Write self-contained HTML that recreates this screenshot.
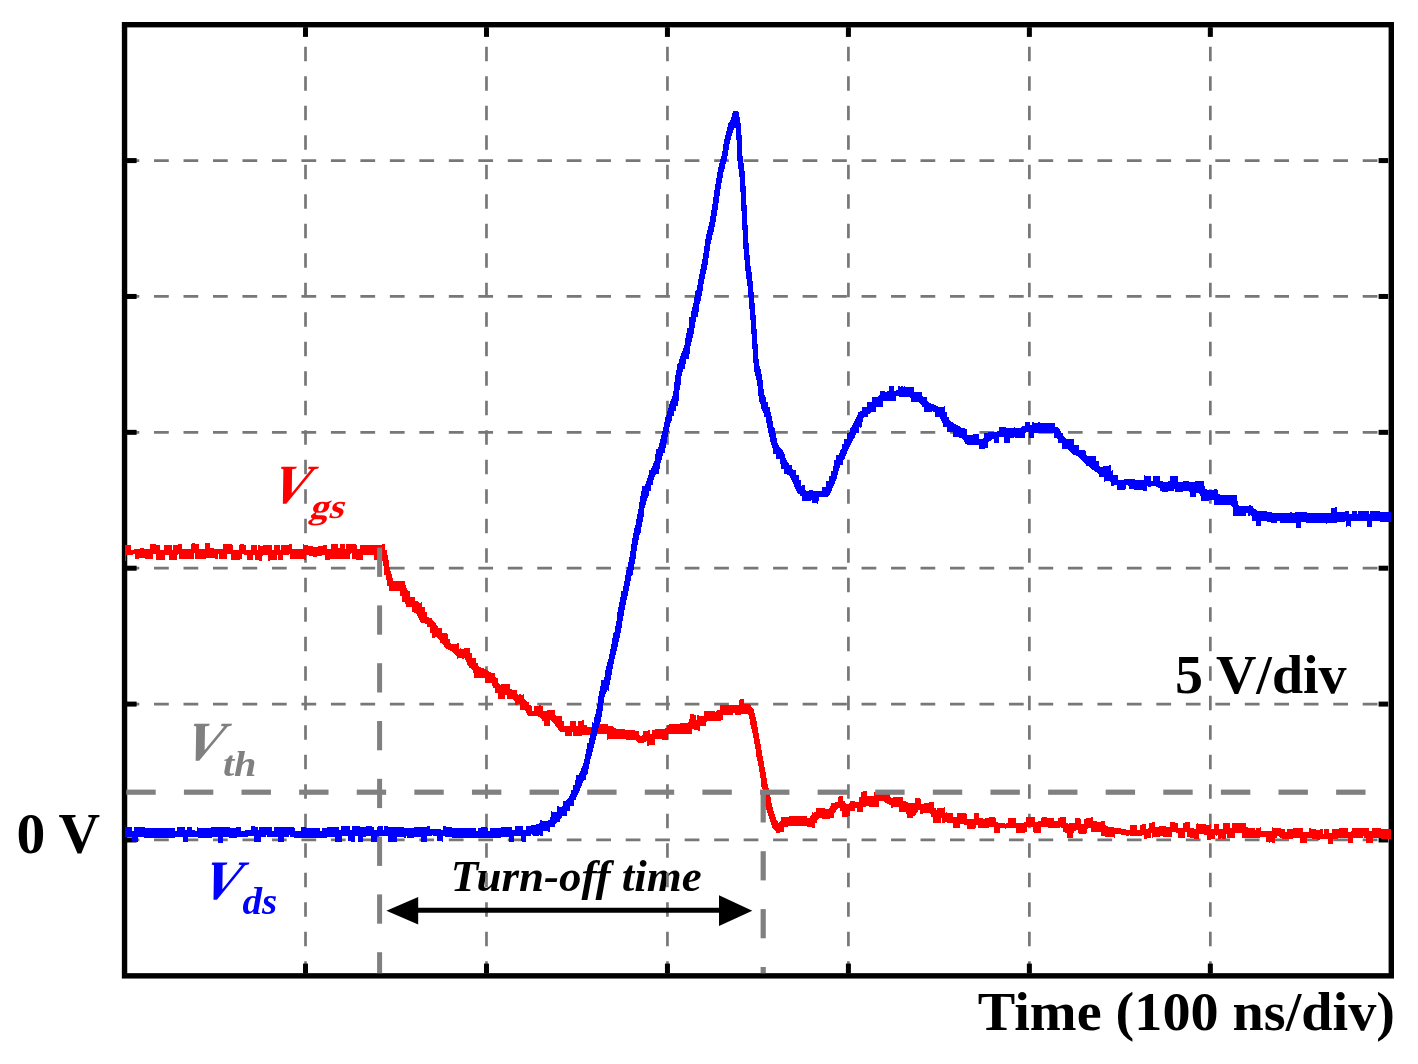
<!DOCTYPE html><html><head><meta charset="utf-8"><title>Turn-off waveform</title><style>html,body{margin:0;padding:0;background:#fff;overflow:hidden;}svg{display:block;}text{font-family:"Liberation Serif",serif;font-weight:bold;}</style></head><body>
<svg width="1418" height="1064" viewBox="0 0 1418 1064">
<rect width="1418" height="1064" fill="#fff"/>
<g>
<text transform="translate(265.42,502.81) scale(0.955,0.9921) skewX(-24)" font-size="56" fill="#ff0000">V</text>
<text transform="translate(308.6,518.07) scale(1.06,0.9538) skewX(-16)" font-size="36" fill="#ff0000">gs</text>
<text transform="translate(178.14,760.11) scale(0.96,0.9895) skewX(-24)" font-size="56" fill="#808080">V</text>
<text transform="translate(222.91,775.7) scale(1.0893,0.9889)" font-size="37" font-style="italic" fill="#808080">th</text>
<text transform="translate(196.3,898.6) scale(0.95,0.9974) skewX(-24)" font-size="56" fill="#0000ff">V</text>
<text transform="translate(242.4,914.3) scale(1.0562,1.0037)" font-size="37" font-style="italic" fill="#0000ff">ds</text>
<text transform="translate(16.48,852.9) scale(1.0099,1.0026)" font-size="57" fill="#000">0 V</text>
<text transform="translate(1174.93,692.64) scale(0.9827,0.9634)" font-size="57" fill="#000">5 V/div</text>
<text transform="translate(977.8,1030.26) scale(0.9857,0.9615)" font-size="57" fill="#000">Time (100 ns/div)</text>
<text transform="translate(450.78,891.16) scale(1.0078,1.005)" font-size="44.6" font-style="italic" fill="#000">Turn-off time</text>
</g>
<g stroke="#777" stroke-width="2.7" fill="none">
<line x1="124.55" y1="160.58" x2="1391.3" y2="160.58" stroke-dasharray="14.75 14.73"/>
<line x1="124.55" y1="296.46" x2="1391.3" y2="296.46" stroke-dasharray="14.75 14.73"/>
<line x1="124.55" y1="432.34" x2="1391.3" y2="432.34" stroke-dasharray="14.75 14.73"/>
<line x1="124.55" y1="568.21" x2="1391.3" y2="568.21" stroke-dasharray="14.75 14.73"/>
<line x1="124.55" y1="704.09" x2="1391.3" y2="704.09" stroke-dasharray="14.75 14.73"/>
<line x1="124.55" y1="839.97" x2="1391.3" y2="839.97" stroke-dasharray="14.75 14.73"/>
<line x1="305.51" y1="975.85" x2="305.51" y2="24.7" stroke-dasharray="14.6 14.9"/>
<line x1="486.48" y1="975.85" x2="486.48" y2="24.7" stroke-dasharray="14.6 14.9"/>
<line x1="667.44" y1="975.85" x2="667.44" y2="24.7" stroke-dasharray="14.6 14.9"/>
<line x1="848.41" y1="975.85" x2="848.41" y2="24.7" stroke-dasharray="14.6 14.9"/>
<line x1="1029.37" y1="975.85" x2="1029.37" y2="24.7" stroke-dasharray="14.6 14.9"/>
<line x1="1210.34" y1="975.85" x2="1210.34" y2="24.7" stroke-dasharray="14.6 14.9"/>
</g>
<g fill="#000">
<rect x="127" y="158.08" width="9.6" height="5"/>
<rect x="1378.6" y="158.08" width="9.6" height="5"/>
<rect x="127" y="293.96" width="9.6" height="5"/>
<rect x="1378.6" y="293.96" width="9.6" height="5"/>
<rect x="127" y="429.84" width="9.6" height="5"/>
<rect x="1378.6" y="429.84" width="9.6" height="5"/>
<rect x="127" y="565.71" width="9.6" height="5"/>
<rect x="1378.6" y="565.71" width="9.6" height="5"/>
<rect x="127" y="701.59" width="9.6" height="5"/>
<rect x="1378.6" y="701.59" width="9.6" height="5"/>
<rect x="127" y="837.47" width="9.6" height="5"/>
<rect x="1378.6" y="837.47" width="9.6" height="5"/>
<rect x="303.01" y="27.3" width="5" height="9.6"/>
<rect x="303.01" y="963.6" width="5" height="9.6"/>
<rect x="483.98" y="27.3" width="5" height="9.6"/>
<rect x="483.98" y="963.6" width="5" height="9.6"/>
<rect x="664.94" y="27.3" width="5" height="9.6"/>
<rect x="664.94" y="963.6" width="5" height="9.6"/>
<rect x="845.91" y="27.3" width="5" height="9.6"/>
<rect x="845.91" y="963.6" width="5" height="9.6"/>
<rect x="1026.87" y="27.3" width="5" height="9.6"/>
<rect x="1026.87" y="963.6" width="5" height="9.6"/>
<rect x="1207.84" y="27.3" width="5" height="9.6"/>
<rect x="1207.84" y="963.6" width="5" height="9.6"/>
</g>
<rect x="124.55" y="24.7" width="1266.75" height="951.15" fill="none" stroke="#000" stroke-width="5.4"/>
<path d="M124.6 546H125V545H131V550H134V549H140V548H144V549H150V544H156V545H160V550H164V545H172V550H173V545H178V544H182V549H191V544H192V543H195V544H199V549H205V543H210V548H214V549H223V544H232V545H233V550H239V545H240V544H244V545H246V550H251V545H257V550H258V545H260V546H263V545H272V550H274V545H280V550H281V545H289V544H292V549H303V544H304V545H308V546H313V547H318V546H323V545H327V549H331V544H338V548H340V544H345V549H346V544H356V545H357V549H360V545H382V544H385V550H387V555H388V560H389V567H390V571H391V574H392V578H393V581H405V585H406V588H407V590H408V591H410V597H415V601H418V602H419V603H421V602H422V607H425V612H427V617H429V618H432V620H433V621H434V622H435V623H436V625H437V626H438V628H442V633H447V634H448V639H450V643H451V644H457V643H459V649H460V648H461V649H464V648H470V653H472V658H476V663H478V666H479V667H481V668H484V669H486V670H488V671H489V672H491V673H495V677H496V678H498V683H499V684H500V685H501V684H510V689H512V690H517V694H518V695H519V694H521V695H523V694H524V699H525V700H526V701H527V702H529V705H531V706H532V711H534V706H539V705H541V706H543V711H547V710H555V715H556V716H562V721H564V726H570V721H576V726H578V721H582V720H584V725H587V727H595V728H597V724H608V726H613V727H614V728H616V729H625V730H635V731H639V735H640V736H642V735H643V731H648V730H650V734H652V730H655V729H665V728H667V725H669V724H680V723H688V722H689V719H690V714H694V715H696V720H697V715H699V716H704V711H715V712H716V711H717V710H720V705H739V700H740V699H744V704H750V705H751V707H752V708H753V709H754V713H755V717H756V721H757V727H758V733H759V739H760V744H761V750H762V756H763V761H764V767H765V772H766V778H767V784H768V788H769V793H770V797H771V803H772V807H773V811H774V814H775V817H776V820H777V821H778V823H779V822H780V821H781V817H789V816H807V818H810V816H811V815H812V812H813V813H814V812H816V808H825V809H829V808H830V806H831V803H835V802H838V797H839V796H843V801H845V803H846V804H849V803H850V801H855V802H859V797H861V792H863V791H867V796H874V792H883V793H890V797H891V798H893V797H903V801H906V802H908V803H915V798H920V799H921V804H924V803H929V802H934V808H936V810H937V808H944V807H945V813H946V812H947V813H953V817H957V813H966V814H967V819H974V813H979V818H983V819H985V818H989V817H995V818H996V822H998V823H1005V824H1006V823H1008V818H1016V823H1024V822H1026V817H1035V822H1038V821H1041V818H1042V817H1047V818H1054V821H1058V818H1060V817H1066V823H1068V824H1069V823H1075V818H1080V819H1081V824H1084V819H1086V818H1091V817H1093V821H1097V822H1101V821H1105V825H1106V826H1108V827H1114V828H1121V829H1126V830H1130V825H1137V830H1140V825H1142V824H1146V829H1148V828H1149V823H1152V822H1155V827H1159V826H1166V827H1170V822H1175V823H1178V828H1183V823H1185V822H1190V828H1194V829H1196V824H1197V823H1198V824H1206V825H1210V824H1211V829H1214V824H1219V829H1223V823H1230V828H1232V823H1246V827H1248V828H1255V830H1256V828H1260V827H1261V831H1272V827H1273V828H1281V829H1285V832H1287V829H1293V828H1303V832H1309V828H1311V829H1316V830H1320V829H1323V834H1324V829H1329V833H1332V829H1339V828H1348V832H1351V831H1352V828H1369V831H1372V828H1381V829H1391V839H1381V838H1373V843H1366V838H1364V836H1363V838H1353V843H1348V838H1338V839H1333V844H1328V839H1320V840H1317V839H1312V838H1307V843H1300V838H1293V839H1282V838H1280V837H1279V836H1277V838H1275V843H1272V842H1270V843H1269V842H1266V837H1260V838H1242V833H1235V838H1227V834H1226V839H1222V838H1221V839H1218V835H1217V836H1216V835H1215V839H1211V840H1207V835H1204V834H1199V839H1194V838H1190V837H1187V832H1185V838H1178V833H1176V832H1172V837H1163V836H1160V837H1153V838H1152V833H1151V838H1147V839H1144V835H1142V836H1130V835H1129V836H1126V835H1121V834H1115V838H1114V837H1105V836H1101V832H1091V828H1088V829H1087V833H1086V834H1079V833H1078V830H1076V831H1074V833H1073V838H1067V833H1065V832H1063V828H1061V827H1060V828H1048V827H1041V833H1034V832H1033V827H1027V832H1025V833H1016V828H1006V829H1005V828H1000V833H994V827H989V828H978V825H976V828H975V829H967V825H964V824H960V828H953V823H947V822H945V823H942V818H941V823H933V817H931V814H930V813H923V814H920V810H918V812H917V813H916V815H915V816H913V818H907V814H906V812H899V807H893V808H891V805H889V804H887V803H885V802H884V801H879V807H869V806H866V807H863V812H857V808H855V811H850V816H848V817H842V811H840V808H838V809H837V810H836V812H835V813H834V818H830V819H822V818H819V819H818V820H817V823H815V828H812V827H807V826H788V827H784V832H780V833H776V831H775V830H774V829H773V828H772V825H771V822H770V819H769V816H768V813H767V810H766V807H765V802H764V796H763V789H762V787H761V778H760V772H759V766H758V761H757V757H756V749H755V744H754V738H753V733H752V729H751V725H750V719H749V715H748V714H741V715H735V713H733V715H723V720H721V721H707V722H706V726H700V731H698V730H694V729H692V734H668V740H662V739H655V745H649V746H647V741H646V742H644V743H638V742H637V741H636V740H626V739H608V740H607V734H597V735H596V740H591V735H582V736H573V732H572V736H565V732H560V731H559V730H558V728H557V727H556V726H555V724H554V723H553V722H552V721H551V720H550V726H544V721H542V719H541V718H540V717H538V716H528V715H527V713H526V711H525V710H520V704H518V705H515V701H514V700H513V699H507V695H505V699H498V693H495V688H493V686H492V683H485V678H474V673H473V670H472V669H471V668H469V666H468V665H467V662H466V660H465V658H464V659H462V658H458V659H457V656H456V655H455V654H454V653H453V652H452V651H450V650H448V649H446V648H445V647H444V645H443V644H442V643H440V640H439V639H438V638H437V637H435V638H432V633H430V627H427V624H425V623H421V622H420V620H419V618H418V616H417V614H416V613H414V612H412V607H406V604H405V602H402V596H400V591H389V586H387V580H386V575H384V566H383V561H382V558H381V555H380V560H374V555H363V560H356V559H352V553H351V554H350V559H330V560H325V555H322V556H317V557H313V556H309V555H306V560H304V559H290V554H289V555H283V560H278V555H277V560H270V561H268V555H263V556H262V561H259V560H255V555H253V560H247V555H244V554H242V559H240V560H231V554H227V559H219V554H218V559H215V558H206V559H195V553H194V559H179V554H178V555H177V560H169V555H165V560H156V554H153V559H145V558H139V559H135V554H133V555H126V561H124.6Z" fill="#ff0000" shape-rendering="crispEdges"/>
<path d="M124.6 827H132V831H134V827H145V828H175V831H177V827H185V830H187V827H192V830H195V831H197V827H198V828H211V827H230V828H236V827H241V831H245V830H251V826H255V827H258V830H259V827H272V831H274V827H294V828H295V831H301V827H306V828H320V831H322V828H327V827H339V830H341V826H350V830H352V826H360V827H366V826H372V827H374V830H377V827H378V826H383V830H384V826H388V827H404V828H414V827H427V826H430V829H441V830H443V826H446V827H452V828H476V831H478V828H481V827H487V828H488V831H490V828H501V827H512V830H515V826H523V830H526V826H531V825H536V824H539V823H540V820H542V821H548V820H550V817H551V811H552V812H557V806H559V807H562V806H563V801H566V800H567V799H568V798H569V796H570V794H571V790H573V785H575V780H576V775H579V773H580V771H581V768H582V766H583V763H584V759H585V754H586V749H587V743H589V738H590V733H591V728H592V722H593V723H594V717H595V714H596V709H597V704H598V696H599V691H600V686H601V680H604V677H605V670H606V666H607V662H608V659H609V654H610V649H611V644H612V638H613V633H614V632H615V626H616V621H617V612H618V607H619V602H620V597H621V591H623V586H624V581H625V575H626V570H627V567H628V562H629V557H630V551H631V544H632V538H633V533H634V528H635V525H636V519H637V514H638V509H639V502H640V496H641V491H642V486H645V484H646V481H647V478H648V475H649V470H651V468H652V466H653V463H654V461H655V454H656V449H658V447H659V443H660V439H661V435H662V431H663V427H664V422H665V417H666V415H667V411H668V408H669V404H670V401H671V399H672V396H673V391H674V382H675V375H676V370H677V364H678V363H679V359H680V356H681V353H682V351H683V348H684V345H685V338H686V333H687V328H689V317H691V311H692V307H693V303H694V297H695V291H696V290H697V285H698V279H699V274H700V269H701V264H702V259H703V253H704V246H705V239H706V234H707V230H708V226H709V222H710V216H711V210H712V204H713V197H714V190H715V184H716V178H717V172H718V167H719V163H720V159H721V156H722V151H723V144H724V139H725V135H726V131H727V127H728V123H729V122H730V120H731V117H732V113H733V111H738V112H739V117H740V123H741V135H742V156H743V163H744V171H745V186H746V205H747V225H748V243H749V255H750V266H751V272H752V281H753V292H754V303H755V315H756V329H757V344H758V359H759V366H760V369H761V374H762V380H763V389H764V395H765V397H766V402H768V407H770V412H771V416H772V421H773V427H774V428H775V433H776V438H777V443H778V445H779V447H780V448H781V449H782V450H783V452H784V454H785V458H786V460H787V462H788V463H789V465H792V469H793V470H796V475H799V480H801V486H802V485H805V490H806V491H809V490H813V491H822V487H826V481H829V476H831V471H833V466H834V460H836V455H839V453H840V450H841V449H842V444H844V439H847V433H849V432H850V428H851V427H852V425H853V423H854V421H855V419H856V417H857V415H858V412H860V411H862V407H867V402H872V397H878V396H879V395H880V391H885V392H887V391H889V386H894V391H896V390H898V386H900V387H901V386H903V387H904V386H905V387H914V392H922V396H923V397H927V401H928V402H929V403H931V404H934V405H936V406H938V407H944V406H945V412H947V417H949V420H950V421H951V422H953V423H954V424H956V425H958V426H960V427H961V428H965V429H967V435H973V434H979V439H983V438H984V433H988V432H997V431H999V427H1006V428H1014V427H1015V428H1021V427H1022V426H1025V422H1030V425H1032V422H1034V423H1038V422H1040V423H1055V427H1058V428H1059V429H1060V431H1061V433H1063V436H1064V437H1065V438H1066V439H1074V445H1079V450H1085V451H1086V455H1087V456H1096V461H1099V466H1100V467H1103V466H1109V465H1111V471H1112V470H1113V475H1118V480H1124V479H1135V480H1144V475H1145V476H1151V481H1153V476H1160V481H1163V482H1168V481H1170V476H1178V482H1183V481H1189V482H1195V481H1204V486H1205V489H1207V490H1214V489H1217V490H1218V494H1220V495H1237V501H1238V505H1239V506H1249V505H1251V506H1253V508H1254V509H1256V510H1257V511H1267V512H1272V513H1290V512H1292V513H1295V512H1307V513H1331V508H1335V507H1337V512H1345V511H1349V514H1352V511H1357V514H1358V511H1369V514H1370V511H1380V512H1391V522H1380V521H1372V527H1367V521H1351V527H1350V526H1347V527H1346V521H1345V522H1337V523H1327V524H1326V523H1306V522H1301V528H1296V523H1280V521H1277V523H1271V522H1267V521H1261V526H1256V521H1252V516H1251V515H1250V516H1248V513H1246V516H1233V507H1232V506H1231V505H1214V500H1209V501H1201V496H1200V494H1199V493H1196V497H1190V492H1189V491H1183V492H1175V489H1174V491H1168V492H1162V491H1160V488H1158V487H1156V486H1151V487H1148V486H1147V491H1143V490H1134V489H1129V486H1128V485H1126V489H1125V490H1117V485H1114V486H1111V482H1110V481H1105V482H1104V477H1099V474H1098V473H1097V472H1095V471H1094V470H1092V469H1091V468H1090V467H1089V466H1086V464H1085V463H1084V462H1083V461H1082V460H1081V459H1080V458H1079V457H1078V456H1076V455H1073V454H1072V453H1071V452H1070V451H1069V450H1068V449H1062V443H1058V439H1057V438H1054V433H1034V438H1029V432H1026V433H1025V438H1015V437H1014V438H1010V443H1004V437H999V443H994V439H992V440H991V441H989V442H988V448H985V449H979V445H967V444H965V442H964V440H963V439H962V438H959V437H953V432H947V427H943V423H942V421H941V419H940V417H935V412H933V411H932V412H924V407H922V405H921V404H920V403H919V402H911V398H910V397H899V396H896V401H883V407H876V412H871V413H870V414H868V417H864V418H863V422H862V427H861V428H860V427H859V433H856V435H855V438H854V439H853V441H852V443H851V445H850V447H849V449H848V451H847V454H846V456H845V459H844V460H843V465H840V468H839V471H838V475H837V479H836V481H835V484H834V486H833V488H832V491H831V493H830V495H829V496H828V497H819V501H818V504H817V503H812V500H811V501H802V496H800V494H798V493H797V491H796V489H795V487H794V484H793V482H792V480H791V478H790V476H789V475H787V474H784V469H781V464H780V459H776V454H773V448H772V445H771V442H770V437H769V433H768V428H767V423H766V417H764V413H763V411H762V409H761V404H760V402H759V396H758V386H757V380H756V376H755V372H754V363H753V349H752V334H751V320H750V309H749V297H748V286H747V279H746V271H745V260H744V249H743V230H742V211H741V192H740V177H739V169H738V161H737V140H736V128H734V130H733V133H732V136H731V140H730V144H729V150H728V156H727V161H726V164H725V169H724V172H723V178H722V183H721V189H720V196H719V203H718V210H717V216H716V222H715V227H714V232H713V235H712V240H711V244H710V251H709V258H708V265H707V270H706V274H705V279H704V284H703V291H702V296H701V301H700V304H699V312H698V317H696V322H695V328H694V334H693V338H692V342H691V346H690V354H689V359H686V364H685V369H683V372H682V376H681V385H680V390H679V401H678V406H676V411H674V416H672V421H671V423H670V427H669V432H668V437H667V443H666V448H665V453H663V456H662V460H661V463H660V469H659V474H656V475H655V477H654V480H653V485H651V491H649V496H648V498H647V501H646V505H645V508H644V517H643V522H642V527H641V533H640V535H639V540H638V545H637V551H636V559H635V564H634V570H633V575H632V576H631V581H630V586H629V591H628V596H627V600H626V605H625V610H624V616H623V621H622V628H621V633H620V638H619V642H618V647H617V651H616V655H615V659H614V664H613V669H612V675H611V680H610V685H609V691H608V690H607V692H606V694H605V697H604V703H603V711H602V717H601V722H600V724H599V728H598V732H597V736H596V740H595V744H594V748H593V752H592V756H591V759H590V764H589V769H588V774H587V775H586V780H584V781H583V783H582V786H581V788H580V791H579V793H578V795H577V797H576V800H574V806H570V811H567V816H562V818H561V819H560V822H557V823H556V824H555V827H550V832H548V831H543V836H540V835H539V836H533V835H532V834H531V836H526V842H522V841H521V836H514V842H509V837H501V838H452V837H445V836H443V842H442V841H437V836H433V835H432V836H427V842H421V837H414V838H407V836H406V838H404V837H397V842H388V836H379V842H371V836H366V837H363V842H358V836H355V842H351V841H348V836H342V842H335V837H327V838H294V837H290V835H289V837H284V842H278V837H267V835H266V837H261V842H254V836H248V837H237V838H229V837H223V843H218V837H212V838H198V837H188V842H183V837H175V838H144V837H138V842H132V837H124.6Z" fill="#0000ff" shape-rendering="crispEdges"/>
<g fill="#808080">
<rect x="126.3" y="789.6" width="29.4" height="5.2"/>
<rect x="183.91" y="789.6" width="29.4" height="5.2"/>
<rect x="241.52" y="789.6" width="29.4" height="5.2"/>
<rect x="299.13" y="789.6" width="29.4" height="5.2"/>
<rect x="356.74" y="789.6" width="29.4" height="5.2"/>
<rect x="414.35" y="789.6" width="29.4" height="5.2"/>
<rect x="471.96" y="789.6" width="29.4" height="5.2"/>
<rect x="529.57" y="789.6" width="29.4" height="5.2"/>
<rect x="587.18" y="789.6" width="29.4" height="5.2"/>
<rect x="644.79" y="789.6" width="29.4" height="5.2"/>
<rect x="702.4" y="789.6" width="29.4" height="5.2"/>
<rect x="760.01" y="789.6" width="29.4" height="5.2"/>
<rect x="817.62" y="789.6" width="29.4" height="5.2"/>
<rect x="875.23" y="789.6" width="29.4" height="5.2"/>
<rect x="932.84" y="789.6" width="29.4" height="5.2"/>
<rect x="990.45" y="789.6" width="29.4" height="5.2"/>
<rect x="1048.06" y="789.6" width="29.4" height="5.2"/>
<rect x="1105.67" y="789.6" width="29.4" height="5.2"/>
<rect x="1163.28" y="789.6" width="29.4" height="5.2"/>
<rect x="1220.89" y="789.6" width="29.4" height="5.2"/>
<rect x="1278.5" y="789.6" width="29.4" height="5.2"/>
<rect x="1336.11" y="789.6" width="29.4" height="5.2"/>
<rect x="377.1" y="547.6" width="5" height="29.3"/>
<rect x="377.1" y="605.4" width="5" height="29.3"/>
<rect x="377.1" y="663.2" width="5" height="29.3"/>
<rect x="377.1" y="721" width="5" height="29.3"/>
<rect x="377.1" y="778.8" width="5" height="29.3"/>
<rect x="377.1" y="836.6" width="5" height="29.3"/>
<rect x="377.1" y="894.4" width="5" height="29.3"/>
<rect x="377.1" y="952.2" width="5" height="21"/>
<rect x="760.6" y="793.3" width="5.2" height="29.2"/>
<rect x="760.6" y="851.2" width="5.2" height="29.2"/>
<rect x="760.6" y="909.1" width="5.2" height="29.2"/>
<rect x="760.6" y="967" width="5.2" height="6.2"/>
</g>
<line x1="410" y1="910.2" x2="728" y2="910.2" stroke="#000" stroke-width="5"/>
<polygon points="386.4,910.7 418.2,896.9 418.2,924.6" fill="#000"/>
<polygon points="752.3,910.7 719,895.2 719,926" fill="#000"/>
</svg></body></html>
